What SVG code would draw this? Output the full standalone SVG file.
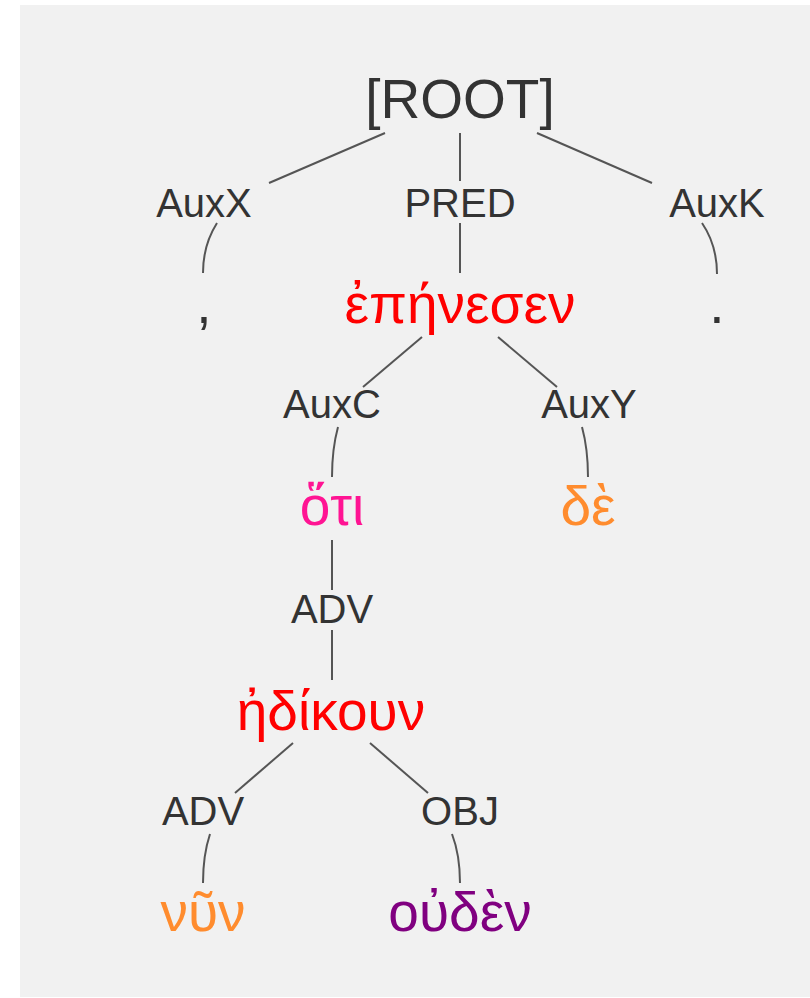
<svg xmlns="http://www.w3.org/2000/svg" width="810" height="998" viewBox="0 0 810 998">
<style>
text{font-family:"Liberation Sans",Arial,sans-serif;text-anchor:middle}
.lbl{font-size:40px;fill:#333}
.root{font-size:55px;fill:#333}
.w{font-size:55px}
.link{fill:none;stroke:#555;stroke-width:2}
</style>
<rect x="20" y="5" width="790" height="992" fill="#f1f1f1"/>
<g id="connectors">
<path class="link" d="M385,133 L269,183"/>
<path class="link" d="M460,133 L460,181"/>
<path class="link" d="M537,133 L652,183"/>
<path class="link" d="M217,223 Q203,245 203,273"/>
<path class="link" d="M460,223 L460,273"/>
<path class="link" d="M702,223 Q717,245 717,274"/>
<path class="link" d="M422,337 L363,387"/>
<path class="link" d="M498,337 L557,387"/>
<path class="link" d="M338,427 Q332,449 332,477"/>
<path class="link" d="M582,427 Q588,449 588,477"/>
<path class="link" d="M332,540 L332,590"/>
<path class="link" d="M332,630 L332,680"/>
<path class="link" d="M293,743 L235,793"/>
<path class="link" d="M370,743 L428,793"/>
<path class="link" d="M210,834 Q203,855 203,883"/>
<path class="link" d="M452,834 Q460,855 460,883"/>
</g>
<g id="n-root"><text class="root" x="460" y="118">[ROOT]</text></g>
<g id="n-auxx"><text class="lbl" x="204" y="217">AuxX</text></g>
<g id="n-pred"><text class="lbl" x="460" y="217">PRED</text></g>
<g id="n-auxk"><text class="lbl" x="717" y="217">AuxK</text></g>
<g id="n-comma"><text class="w" x="204" y="323" fill="#333">,</text></g>
<g id="n-epenesen"><text class="w" x="460" y="323" fill="#ff0000">ἐπήνεσεν</text></g>
<g id="n-period"><text class="w" x="717" y="323" fill="#333">.</text></g>
<g id="n-auxc"><text class="lbl" x="332" y="418">AuxC</text></g>
<g id="n-auxy"><text class="lbl" x="589" y="418">AuxY</text></g>
<g id="n-hoti"><text class="w" x="332" y="525" fill="#ff1493">ὅτι</text></g>
<g id="n-de"><text class="w" x="588" y="525" fill="#ff8c2e">δὲ</text></g>
<g id="n-adv1"><text class="lbl" x="332" y="623">ADV</text></g>
<g id="n-edikoun"><text class="w" x="331" y="730" fill="#ff0000">ἠδίκουν</text></g>
<g id="n-adv2"><text class="lbl" x="203" y="825">ADV</text></g>
<g id="n-obj"><text class="lbl" x="460" y="825">OBJ</text></g>
<g id="n-nun"><text class="w" x="203" y="931" fill="#ff8c2e">νῦν</text></g>
<g id="n-ouden"><text class="w" x="460" y="931" fill="#800080">οὐδὲν</text></g>
</svg>
